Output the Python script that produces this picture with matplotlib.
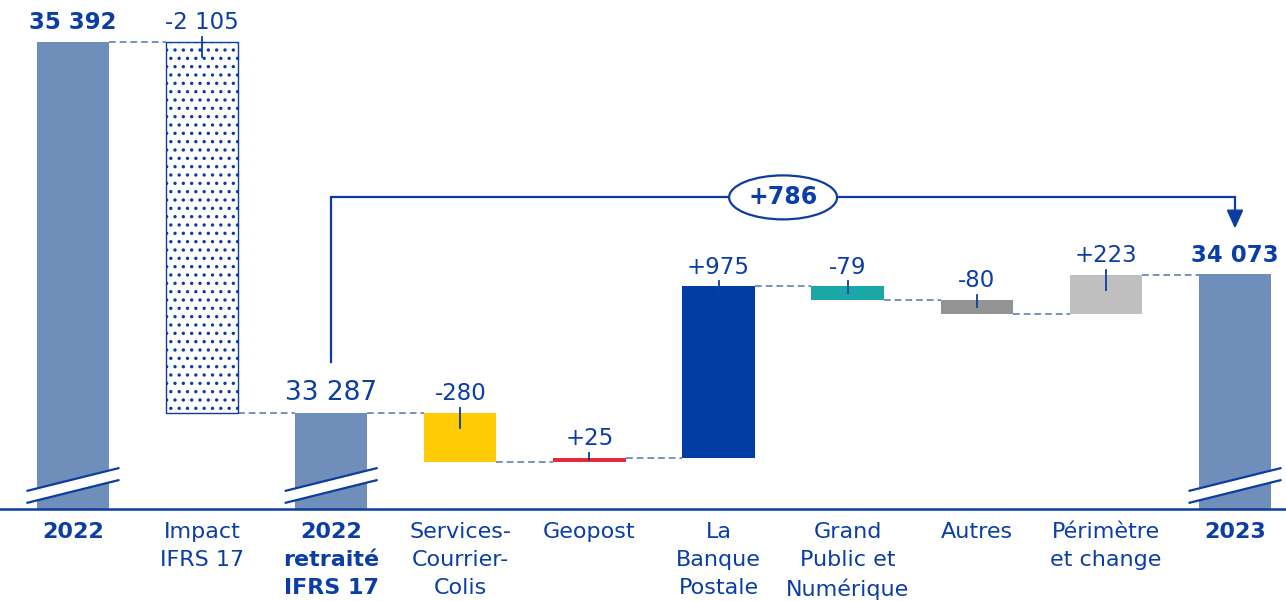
import numpy as np
import matplotlib
matplotlib.use("Agg")
import matplotlib.pyplot as plt
from matplotlib.patches import Polygon

plt.rcParams['font.family'] = ['DejaVu Sans']
plt.rcParams['hatch.linewidth'] = 1.2

# Data
categories = ["2022", "Impact\nIFRS 17", "2022\nretraité\nIFRS 17", "Services-\nCourrier-\nColis",
              "Geopost", "La\nBanque\nPostale", "Grand\nPublic et\nNumérique", "Autres",
              "Périmètre\net change", "2023"]
bold_labels = [True, False, True, False, False, False, False, False, False, True]
total_2022 = 35392
impact_ifrs17 = -2105
total_2022_restated = 33287
step_values = [-280, 25, 975, -79, -80, 223]
step_colors = ["#FFCB05", "#E8283A", "#003DA5", "#1AA7A7", "#939393", "#BFBFBF"]
total_2023 = 34073
bridge_delta = 786

TEXT = "#0A3EA6"
DARK = "#0B3DA0"
TOTAL_COLOR = "#6F8EB9"
DASH = "#7693C0"

# broken axis floor / top
FLOOR = 32742
TOP = 35630
W = 0.56


def fmt(v, sign=False):
    s = f"{v:+,}" if sign else f"{v:,}"
    return s.replace(",", " ")


fig = plt.figure(figsize=(12.86, 6.01), dpi=100)
ax = fig.add_axes([0, 92 / 601, 1, 509 / 601])
ax.set_xlim(-0.565, 9.395)
ax.set_ylim(FLOOR, TOP)
for s in ["top", "left", "right"]:
    ax.spines[s].set_visible(False)
ax.spines["bottom"].set_color(DARK)
ax.spines["bottom"].set_linewidth(1.8)
ax.set_yticks([])
ax.set_xticks([])

x = np.arange(len(categories))


def label(xi, top, text, size=16.5, weight="normal"):
    ax.annotate(text, (xi, top), xytext=(0, 9), textcoords="offset points",
                ha="center", va="baseline", fontsize=size, color=TEXT, fontweight=weight)


def tick(xi, top, bottom):
    end = max(top - 85, (top + bottom) / 2)
    ax.plot([xi, xi], [top + 28, end], color=DARK, lw=1.3, zorder=4)


def connector(x0, x1, y):
    ax.plot([x0 + W / 2, x1 - W / 2], [y, y], color=DASH, lw=1.4,
            dashes=(3.5, 2), zorder=1)


def draw_break(xi):
    x0, x1 = xi - 0.36, xi + 0.36
    lower = [FLOOR + 34, FLOOR + 165]
    upper = [FLOOR + 102, FLOOR + 233]
    ax.add_patch(Polygon([[x0, lower[0]], [x1, lower[1]], [x1, upper[1]], [x0, upper[0]]],
                         closed=True, fc="white", ec="none", zorder=5))
    ax.plot([x0, x1], lower, color=DARK, lw=1.6, zorder=6, solid_capstyle="butt")
    ax.plot([x0, x1], upper, color=DARK, lw=1.6, zorder=6, solid_capstyle="butt")


# totals
totals = {0: total_2022, 2: total_2022_restated, 9: total_2023}
for i, v in totals.items():
    ax.bar(x[i], v - FLOOR, bottom=FLOOR, width=W, color=TOTAL_COLOR, zorder=2)
    draw_break(x[i])
label(x[0], total_2022, fmt(total_2022), size=16.5, weight="bold")
label(x[2], total_2022_restated, fmt(total_2022_restated), size=19)
label(x[9], total_2023, fmt(total_2023), size=16.5, weight="bold")

# IFRS 17 impact (dotted)
ax.bar(x[1], -impact_ifrs17, bottom=total_2022 + impact_ifrs17, width=W, color="white",
       edgecolor=DARK, linewidth=1.0, hatch="..", zorder=2)
label(x[1], total_2022, fmt(impact_ifrs17))
tick(x[1], total_2022, total_2022 + impact_ifrs17)
connector(x[0], x[1], total_2022)
connector(x[1], x[2], total_2022 + impact_ifrs17)

# steps
level = total_2022_restated
prev_x = x[2]
for k, (v, c) in enumerate(zip(step_values, step_colors)):
    xi = x[3 + k]
    connector(prev_x, xi, level)
    new = level + v
    top, bot = max(level, new), min(level, new)
    ax.bar(xi, top - bot, bottom=bot, width=W, color=c, zorder=2)
    label(xi, top, fmt(v, sign=True))
    tick(xi, top, bot)
    level = new
    prev_x = xi
connector(prev_x, x[9], level)

# bridge bracket
bridge_y = total_2023 + 437
ax.plot([x[2], x[2], x[9]], [total_2022_restated + 290, bridge_y, bridge_y],
        color=DARK, lw=1.6, zorder=3, solid_joinstyle="miter")
ax.annotate("", xy=(x[9], total_2023 + 260), xytext=(x[9], bridge_y),
            arrowprops=dict(arrowstyle="-|>,head_length=0.55,head_width=0.25",
                            color=DARK, lw=1.6, mutation_scale=20,
                            shrinkA=0, shrinkB=0), zorder=3)
ax.text((x[2] + x[9]) / 2, bridge_y, fmt(bridge_delta, sign=True), ha="center", va="center",
        fontsize=17, fontweight="bold", color=TEXT, zorder=4,
        bbox=dict(boxstyle="ellipse,pad=0.15", fc="white", ec=DARK, lw=1.6))

# category labels
for xi, cat, b in zip(x, categories, bold_labels):
    ax.annotate(cat, (xi, FLOOR), xytext=(0, -9), textcoords="offset points",
                ha="center", va="top", fontsize=16, color=TEXT,
                fontweight="bold" if b else "normal", linespacing=1.5,
                annotation_clip=False)

fig.savefig("out.png", dpi=100)
